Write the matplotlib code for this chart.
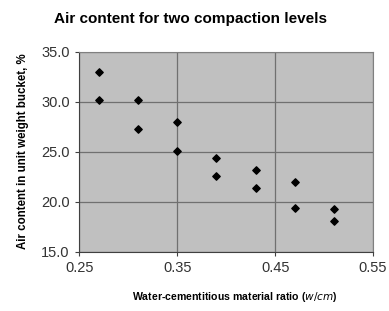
import matplotlib
matplotlib.use("Agg")
import matplotlib.pyplot as plt

# w/cm ratio and air content (two compaction levels per ratio)
wcm = [0.27, 0.27, 0.31, 0.31, 0.35, 0.35, 0.39, 0.39, 0.43, 0.43, 0.47, 0.47, 0.51, 0.51]
air = [33.0, 30.2, 30.2, 27.3, 28.0, 25.1, 24.4, 22.6, 23.2, 21.4, 22.0, 19.4, 19.3, 18.1]

xticks = [0.25, 0.35, 0.45, 0.55]
yticks = [15.0, 20.0, 25.0, 30.0, 35.0]

plt.rcParams['font.family'] = ['Liberation Sans', 'DejaVu Sans']

fig = plt.figure(figsize=(3.89, 3.11), dpi=100)
ax = fig.add_axes([0.204, 0.191, 0.755, 0.643])
ax.set_facecolor('#c0c0c0')

ax.scatter(wcm, air, marker='D', s=14, color='black', zorder=3)

ax.set_xlim(0.25, 0.55)
ax.set_ylim(15, 35)
ax.set_xticks(xticks)
ax.set_xticklabels([f"{v:.2f}" for v in xticks])
ax.set_yticks(yticks)
ax.set_yticklabels([f"{v:.1f}" for v in yticks])
ax.grid(True, color='#707070', linewidth=0.9)
ax.set_axisbelow(True)

for s in ['top', 'right']:
    ax.spines[s].set_color('#808080')
for s in ['left', 'bottom']:
    ax.spines[s].set_color('#404040')
ax.tick_params(direction='out', length=3, width=0.8, color='#404040',
               labelsize=10.5, labelcolor='#333333', pad=4)

fig.text(0.49, 0.94, 'Air content for two compaction levels', fontsize=11,
         fontweight='bold', ha='center', va='center')
ax.set_ylabel('Air content in unit weight bucket, %', fontsize=8.3,
              fontweight='bold', labelpad=9)
ax.set_xlabel('Water-cementitious material ratio ($\\mathbf{\\it{w/cm}}$)',
              fontsize=7.6, fontweight='bold')
ax.xaxis.set_label_coords(0.53, -0.19)

fig.savefig('out.png', dpi=100)
